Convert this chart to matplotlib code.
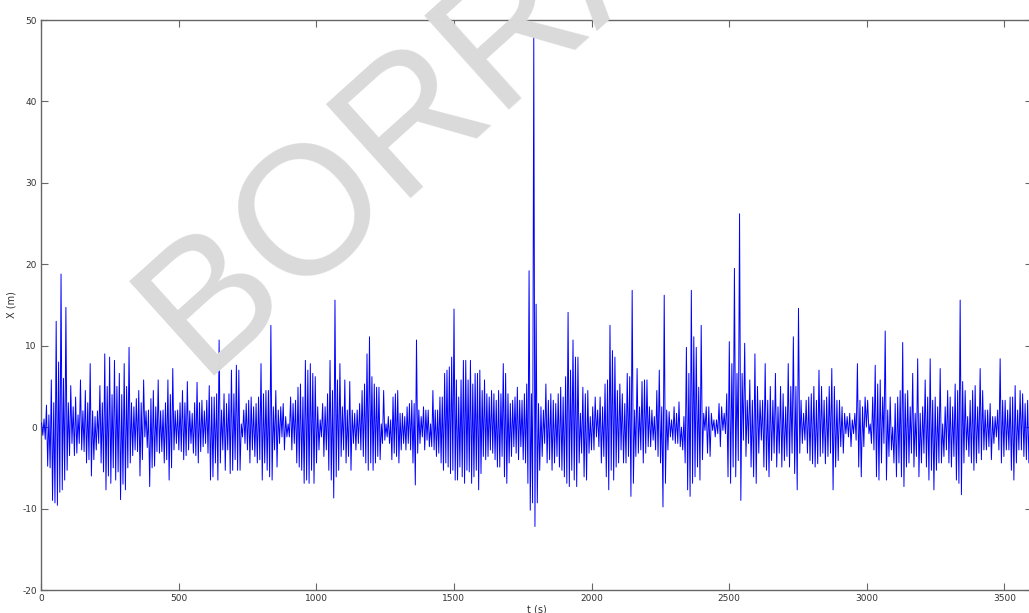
import numpy as np
import matplotlib
matplotlib.use("Agg")
import matplotlib.pyplot as plt
from matplotlib import font_manager

# ---- data: successive wave crests / troughs (m), read per ~600 s block ----
seg_bounds = [0, 600, 1200, 1805, 2405, 3010, 3600]

peaks1 = [0.5, 1.0, 2.7, 1.5, 5.8, 3.0, 13.0, 8.0, 18.8, 6.0, 14.7, 3.0, 5.1, 2.5, 3.7, 1.5, 5.8, 2.0,
          4.5, 3.0, 7.8, 2.0, 1.3, 2.0, 5.1, 3.0, 9.0, 5.0, 8.6, 4.0, 8.2, 5.0, 6.6, 4.0, 7.8, 5.0, 9.8,
          3.0, 2.5, 3.5, 4.5, 3.0, 5.8, 2.0, 2.1, 3.5, 4.5, 2.5, 5.8, 2.0, 2.1, 3.0, 5.8, 4.0, 7.2, 2.0,
          2.1, 3.0, 4.5, 3.0, 5.6, 2.0, 1.7, 3.0, 5.5, 3.0, 3.3, 2.0]
troughs1 = [-1.0, -1.5, -4.8, -5.0, -9.0, -9.3, -9.6, -8.0, -7.7, -6.5, -5.3, -3.5, -2.0, -3.5, -3.2, -2.0,
            -2.8, -3.0, -4.4, -4.0, -6.0, -4.0, -2.8, -2.0, -4.4, -5.5, -7.7, -6.0, -6.9, -5.0, -6.5, -5.5,
            -8.9, -7.0, -7.7, -5.0, -4.4, -3.5, -2.8, -3.0, -6.0, -4.0, -1.2, -2.5, -7.3, -5.0, -4.8, -3.0,
            -3.2, -3.0, -4.4, -4.0, -6.5, -5.0, -2.8, -2.0, -2.8, -3.0, -4.0, -3.5, -2.8, -2.0, -3.2, -3.5,
            -4.4, -3.0, -2.4, -2.0]

peaks2 = [3.3, 5.1, 3.7, 3.7, 4.1, 10.7, 2.1, 4.1, 2.9, 4.1, 7.0, 4.1, 7.6, 7.0, 0.4, 2.1, 2.9, 3.3, 3.7, 2.5,
          2.9, 3.7, 7.8, 4.1, 4.5, 4.5, 12.5, 2.5, 4.5, 2.1, 2.5, 2.9, 1.3, 0.4, 3.7, 2.9, 3.3, 4.9, 5.3, 3.7,
          8.2, 7.0, 7.8, 6.6, 6.2, 2.5, 0.9, 2.9, 2.5, 4.1, 8.2, 4.5, 15.6, 5.8, 7.8, 2.5, 5.8, 2.1, 5.6, 2.1,
          1.7, 2.1, 2.9, 4.5, 5.3, 9.0, 11.1]
troughs2 = [-3.2, -6.5, -6.1, -4.4, -6.5, -4.4, -2.8, -5.3, -2.8, -5.7, -5.3, -4.0, -5.3, -5.3, -1.2, -2.0, -2.8,
            -4.4, -2.8, -3.6, -4.4, -4.0, -6.5, -4.4, -5.3, -6.1, -6.5, -2.8, -4.9, -2.0, -1.2, -2.8, -1.2, -1.2,
            -2.8, -2.0, -4.4, -4.9, -5.3, -6.9, -6.5, -6.9, -5.3, -6.9, -4.4, -2.8, -1.2, -3.6, -2.8, -5.3, -6.5,
            -8.7, -6.1, -5.3, -3.6, -2.8, -4.4, -3.6, -5.3, -2.0, -2.8, -2.0, -2.8, -3.6, -4.4, -5.3, -4.4]

peaks3 = [6.2, 5.3, 4.9, 4.9, 0.4, 4.5, 0.4, 1.3, 0.9, 3.7, 4.1, 4.5, 1.7, 1.7, 1.3, 2.5, 2.9, 3.3, 2.9, 10.7,
          2.1, 1.3, 2.5, 2.1, 2.1, 0.4, 4.5, 2.1, 2.1, 3.7, 3.7, 6.6, 7.0, 7.4, 8.6, 14.5, 5.8, 3.7, 5.8, 8.2,
          8.2, 5.8, 8.2, 5.3, 6.6, 6.6, 7.0, 4.5, 5.8, 4.1, 3.7, 4.5, 4.1, 3.3, 4.5, 4.1, 7.8, 6.6, 4.1, 2.9,
          3.3, 3.7, 4.9, 3.3, 3.3, 4.1, 5.3, 19.2, 4.1, 48.0, 15.1]
troughs3 = [-5.3, -4.4, -3.6, -4.0, -2.0, -1.6, -1.2, -2.0, -4.0, -3.2, -3.6, -4.4, -2.8, -2.0, -2.8, -2.0, -2.8,
            -4.4, -7.1, -3.2, -2.0, -1.2, -2.8, -1.6, -2.4, -2.4, -2.8, -3.6, -3.2, -4.4, -5.3, -4.4, -4.9, -5.7,
            -5.3, -6.5, -6.5, -4.9, -6.1, -6.9, -5.3, -5.5, -6.9, -6.1, -5.3, -7.7, -5.7, -3.6, -4.0, -3.6, -2.8,
            -3.2, -4.0, -4.9, -4.9, -3.6, -6.1, -6.9, -4.4, -3.6, -2.4, -3.2, -4.0, -2.4, -4.0, -4.4, -6.9, -10.2,
            -9.3, -12.2, -9.3]

peaks4 = [2.9, 2.5, 2.1, 5.3, 3.3, 4.1, 3.3, 2.9, 4.1, 4.9, 3.7, 6.2, 14.1, 7.0, 10.7, 8.6, 8.6, 1.7, 4.9, 4.1,
          4.5, 1.3, 2.5, 3.7, 2.1, 3.7, 2.5, 5.3, 5.8, 12.5, 9.4, 8.6, 4.5, 5.3, 4.1, 2.9, 6.6, 6.2, 16.8, 2.1,
          7.2, 2.5, 5.6, 5.8, 5.8, 2.5, 2.1, 1.3, 4.5, 7.0, 2.5, 16.2, 2.1, 1.9, 0.9, 2.5, 1.7, 3.1, 0.0, 1.3,
          9.8, 6.6, 16.8, 11.1, 9.8, 4.9, 12.5]
troughs4 = [-5.3, -3.6, -2.0, -4.4, -4.0, -5.3, -4.4, -3.6, -4.9, -5.3, -6.1, -6.9, -7.3, -5.3, -6.5, -7.3, -4.4,
            -3.2, -6.1, -6.5, -3.2, -2.8, -2.8, -1.2, -2.4, -4.4, -3.6, -6.1, -7.7, -5.3, -6.5, -4.9, -4.4, -2.8,
            -4.4, -4.4, -3.6, -8.5, -6.9, -3.6, -3.2, -2.8, -4.4, -3.2, -2.4, -2.4, -1.6, -2.8, -3.6, -4.4, -9.8,
            -6.9, -2.8, -1.2, -1.6, -2.0, -2.0, -2.4, -2.8, -4.4, -7.7, -8.5, -6.9, -6.1, -4.9, -6.5, -4.0]

peaks5 = [1.7, 2.5, 2.5, 1.7, 0.9, 0.9, 2.9, 2.5, 1.7, 4.1, 10.5, 7.8, 19.5, 6.6, 26.2, 6.6, 10.3, 3.3, 5.8,
          3.3, 9.0, 5.0, 3.3, 3.3, 7.8, 3.3, 5.0, 3.3, 6.6, 2.5, 5.0, 4.1, 2.5, 7.8, 5.0, 11.1, 5.0, 14.6, 3.3,
          1.7, 3.3, 3.7, 4.1, 5.0, 3.3, 7.0, 5.0, 3.3, 3.7, 5.0, 7.2, 5.0, 3.3, 3.3, 2.5, 1.7, 1.3, 1.7, 0.9,
          1.7, 7.8, 3.3, 2.5, 3.7, 3.3]
troughs5 = [-0.4, -3.2, -3.6, -0.4, -1.2, -0.8, -2.4, -0.4, -0.8, -6.1, -6.9, -4.9, -6.1, -4.1, -9.0, -1.6, -3.6,
            -2.0, -4.9, -6.1, -6.9, -3.2, -1.6, -4.9, -5.3, -6.1, -4.1, -3.2, -4.9, -3.2, -4.9, -4.1, -3.6, -4.9,
            -3.2, -5.7, -7.7, -3.2, -2.0, -1.6, -3.2, -4.1, -4.5, -4.9, -4.5, -3.6, -3.2, -4.5, -3.6, -3.2, -7.7,
            -4.9, -4.1, -2.4, -3.2, -0.8, -1.2, -2.4, -0.8, -1.6, -4.9, -6.1, -2.4, 0.0, -0.8]

peaks6 = [0.4, 3.7, 7.6, 5.3, 5.8, 3.7, 11.8, 2.1, 3.7, 0.0, 2.9, 3.7, 4.5, 10.4, 4.1, 4.5, 2.5, 6.6, 1.7, 8.4,
          1.7, 2.5, 5.8, 3.7, 8.4, 3.3, 3.7, 2.5, 7.2, 0.4, 2.5, 4.5, 3.7, 2.5, 5.3, 4.5, 15.6, 5.6, 4.5, 1.3,
          3.3, 4.5, 5.1, 2.5, 7.2, 4.5, 2.1, 2.1, 2.9, 1.3, 1.3, 2.1, 8.4, 3.3, 3.3, 2.1, 3.7, 3.7, 5.1, 2.1,
          4.5, 4.1, 2.9, 3.3, 3.7]
troughs6 = [-2.0, -2.8, -6.1, -6.5, -4.4, -2.0, -6.5, -3.6, -2.8, -4.4, -6.1, -4.4, -6.1, -7.3, -4.9, -4.4, -3.2,
            -4.9, -3.6, -6.1, -4.4, -3.2, -4.9, -6.5, -5.3, -7.7, -5.3, -4.4, -4.4, -3.6, -2.8, -4.4, -4.9, -3.6,
            -6.5, -6.9, -8.3, -4.4, -2.8, -3.6, -4.4, -5.3, -4.4, -3.2, -4.0, -2.8, -2.8, -2.4, -4.0, -2.0, -1.2,
            -2.8, -4.4, -3.6, -2.8, -2.8, -5.3, -6.5, -4.4, -2.8, -2.8, -3.6, -4.0, -4.4, -2.8]

peak_sets = [peaks1, peaks2, peaks3, peaks4, peaks5, peaks6]
trough_sets = [troughs1, troughs2, troughs3, troughs4, troughs5, troughs6]

x_ticks = [0, 500, 1000, 1500, 2000, 2500, 3000, 3500]
y_ticks = [-20, -10, 0, 10, 20, 30, 40, 50]

# ---- build the time series (one crest and one trough per wave) ----
t_all, x_all = [], []
for k, (pk, tr) in enumerate(zip(peak_sets, trough_sets)):
    t0, t1 = seg_bounds[k], seg_bounds[k + 1]
    n = len(pk)
    dt = (t1 - t0) / n
    for i in range(n):
        t_all += [t0 + (i + 0.25) * dt, t0 + (i + 0.75) * dt]
        x_all += [pk[i], tr[i]]

W, H = 1029, 613
fig = plt.figure(figsize=(W / 100, H / 100), dpi=100)
fig.patch.set_facecolor("white")
ax = fig.add_axes([41 / W, 1 - 590 / H, 991 / W, 570 / H])
ax.set_facecolor("none")

# watermark (narrow sans if installed)
installed = {f.name for f in font_manager.fontManager.ttflist}
if "Liberation Sans Narrow" in installed:
    wm_family, wm_size = "Liberation Sans Narrow", 158
else:
    wm_family, wm_size = "Liberation Sans", 132
fig.text(200 / W, 1 - 376 / H, "BORRADOR", rotation=42, rotation_mode="anchor",
         ha="left", va="baseline", fontsize=wm_size, color="#dadada",
         family=wm_family, zorder=0)

ax.plot(t_all, x_all, color="blue", lw=0.7, zorder=3)

ax.set_xlim(0, 3600)
ax.set_ylim(-20, 50)
ax.set_xticks(x_ticks)
ax.set_yticks(y_ticks)
ax.set_xticklabels([str(v) for v in x_ticks])
ax.set_yticklabels([str(v) for v in y_ticks])
ax.tick_params(direction="in", length=5, width=0.8, top=True, right=True,
               labelsize=6.5, labelcolor="#333333", color="#666666", pad=3)
for s in ax.spines.values():
    s.set_color("#666666")
    s.set_linewidth(1.0)

ax.set_xlabel("t (s)", fontsize=7, color="#333333", labelpad=1)
ax.set_ylabel("X (m)", fontsize=7, color="#333333", labelpad=4)

fig.savefig("out.png", dpi=100)
